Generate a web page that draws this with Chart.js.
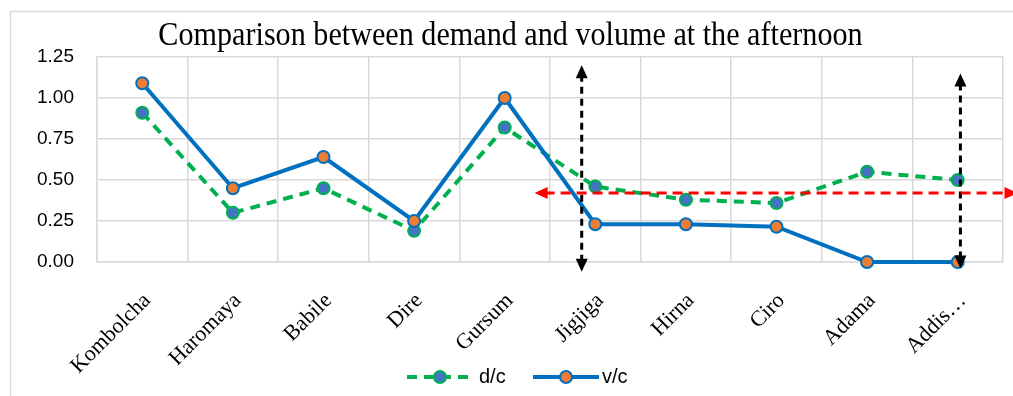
<!DOCTYPE html>
<html>
<head>
<meta charset="utf-8">
<script src="https://cdn.jsdelivr.net/npm/chart.js@4/dist/chart.umd.min.js"></script>
<style>
  html, body { margin: 0; padding: 0; background: #ffffff; }
  #wrap { width: 1013px; height: 396px; position: relative; }
</style>
</head>
<body>
<div id="wrap"><canvas id="chart" width="1013" height="396"></canvas></div>
<script>
// Sites along the corridor
const categories = ['Kombolcha', 'Haromaya', 'Babile', 'Dire', 'Gursum', 'Jigjiga', 'Hirna', 'Ciro', 'Adama', 'Addis…'];
// Demand-to-capacity and volume-to-capacity ratios
const dcValues = [0.91, 0.30, 0.45, 0.19, 0.82, 0.46, 0.38, 0.36, 0.55, 0.50];
const vcValues = [1.09, 0.45, 0.64, 0.25, 1.00, 0.23, 0.23, 0.215, 0.00, 0.00];
// Y axis ticks
const yTicks = [0, 0.25, 0.5, 0.75, 1.0, 1.25];
// Annotation arrows, in axis units (category index, ratio)
const verticalArrows = [
  { x: 4.85, from: -0.06, to: 1.20 },
  { x: 9.03, from: -0.04, to: 1.15 }
];
const horizontalArrow = { y: 0.42, from: 4.33, to: 9.66 };

const GRID = '#d9d9d9';
const BLUE = '#0070c0';
const GREEN = '#00b050';
const ORANGE = '#ed7d31';
const MARK_BLUE = '#4472c4';

function arrowHead(ctx, x, y, angle, len, half) {
  ctx.save();
  ctx.translate(x, y);
  ctx.rotate(angle);
  ctx.beginPath();
  ctx.moveTo(0, 0);
  ctx.lineTo(-len, -half);
  ctx.lineTo(-len, half);
  ctx.closePath();
  ctx.fill();
  ctx.restore();
}

const framePlugin = {
  id: 'frame',
  beforeDraw(chart) {
    const ctx = chart.ctx;
    ctx.save();
    ctx.fillStyle = '#ffffff';
    ctx.fillRect(0, 0, chart.width, chart.height);
    ctx.strokeStyle = GRID;
    ctx.lineWidth = 1.5;
    ctx.strokeRect(10.5, 11.5, chart.width + 20, chart.height + 20);
    // title, set in a tall narrow serif
    ctx.fillStyle = '#000000';
    ctx.font = '34px "Liberation Serif", "Times New Roman", serif';
    ctx.textAlign = 'center';
    ctx.textBaseline = 'alphabetic';
    ctx.translate(510.5, 44.5);
    ctx.scale(0.887, 1);
    ctx.fillText('Comparison between demand and volume at the afternoon', 0, 0);
    ctx.restore();
  },
  afterDraw(chart) {
    const ctx = chart.ctx;
    const xs = chart.scales.x, ys = chart.scales.y;
    ctx.save();
    // vertical double arrows
    ctx.strokeStyle = '#000000';
    ctx.fillStyle = '#000000';
    ctx.lineWidth = 3;
    verticalArrows.forEach(a => {
      const px = xs.getPixelForValue(a.x);
      const y1 = ys.getPixelForValue(a.from);
      const y2 = ys.getPixelForValue(a.to);
      ctx.setLineDash([7, 5]);
      ctx.beginPath();
      ctx.moveTo(px, y1 - 10);
      ctx.lineTo(px, y2 + 10);
      ctx.stroke();
      ctx.setLineDash([]);
      arrowHead(ctx, px, y2, -Math.PI / 2, 13, 6);
      arrowHead(ctx, px, y1, Math.PI / 2, 13, 6);
    });
    // horizontal double arrow
    ctx.strokeStyle = '#ff0000';
    ctx.fillStyle = '#ff0000';
    const hy = ys.getPixelForValue(horizontalArrow.y);
    const hx1 = xs.getPixelForValue(horizontalArrow.from);
    const hx2 = xs.getPixelForValue(horizontalArrow.to);
    ctx.setLineDash([10, 6]);
    ctx.beginPath();
    ctx.moveTo(hx1 + 10, hy);
    ctx.lineTo(hx2 - 10, hy);
    ctx.stroke();
    ctx.setLineDash([]);
    arrowHead(ctx, hx1, hy, Math.PI, 13, 6);
    arrowHead(ctx, hx2, hy, 0, 13, 6);

    // legend
    const ly = 377;
    ctx.lineWidth = 4;
    ctx.strokeStyle = GREEN;
    ctx.setLineDash([10, 7]);
    ctx.beginPath();
    ctx.moveTo(407, ly);
    ctx.lineTo(470, ly);
    ctx.stroke();
    ctx.setLineDash([]);
    ctx.beginPath();
    ctx.arc(440, ly, 6, 0, Math.PI * 2);
    ctx.fillStyle = MARK_BLUE;
    ctx.fill();
    ctx.lineWidth = 2;
    ctx.stroke();

    ctx.lineWidth = 4;
    ctx.strokeStyle = BLUE;
    ctx.beginPath();
    ctx.moveTo(533, ly);
    ctx.lineTo(599, ly);
    ctx.stroke();
    ctx.beginPath();
    ctx.arc(566, ly, 6, 0, Math.PI * 2);
    ctx.fillStyle = ORANGE;
    ctx.fill();
    ctx.lineWidth = 2;
    ctx.stroke();

    ctx.fillStyle = '#000000';
    ctx.font = '20px "Liberation Sans", Arial, sans-serif';
    ctx.textAlign = 'left';
    ctx.textBaseline = 'middle';
    ctx.fillText('d/c', 479, ly);
    ctx.fillText('v/c', 602, ly);
    ctx.restore();
  }
};

new Chart(document.getElementById('chart'), {
  type: 'line',
  data: {
    labels: categories,
    datasets: [
      {
        label: 'v/c',
        data: vcValues,
        borderColor: BLUE,
        borderWidth: 4,
        backgroundColor: ORANGE,
        pointBackgroundColor: ORANGE,
        pointBorderColor: BLUE,
        pointBorderWidth: 2,
        pointRadius: 6,
        tension: 0,
        clip: false,
        order: 1
      },
      {
        label: 'd/c',
        data: dcValues,
        borderColor: GREEN,
        borderWidth: 4,
        borderDash: [10, 7],
        backgroundColor: MARK_BLUE,
        pointBackgroundColor: MARK_BLUE,
        pointBorderColor: GREEN,
        pointBorderWidth: 2,
        pointRadius: 6,
        tension: 0,
        clip: false,
        order: 2
      }
    ]
  },
  options: {
    responsive: false,
    animation: false,
    events: [],
    layout: { padding: { left: 0, right: 10, top: 57, bottom: 0 } },
    plugins: {
      legend: { display: false },
      title: { display: false },
      tooltip: { enabled: false }
    },
    scales: {
      x: {
        offset: true,
        grid: { offset: true, color: GRID, lineWidth: 1.5, drawTicks: false },
        border: { color: GRID, width: 1.5 },
        ticks: {
          autoSkip: false,
          maxRotation: 45,
          minRotation: 45,
          padding: 26,
          labelOffset: 5,
          color: '#000000',
          font: { family: '"Liberation Serif", "Times New Roman", serif', size: 22 }
        },
        afterFit(scale) { scale.height = 134; }
      },
      y: {
        min: 0,
        max: 1.25,
        afterBuildTicks(scale) { scale.ticks = yTicks.map(v => ({ value: v })); },
        grid: { color: GRID, lineWidth: 1.5, drawTicks: false },
        border: { color: GRID, width: 1.5 },
        ticks: {
          padding: 23,
          color: '#000000',
          font: { family: '"Liberation Sans", Arial, sans-serif', size: 19 },
          callback: v => Number(v).toFixed(2)
        },
        afterFit(scale) { scale.width = 97; }
      }
    }
  },
  plugins: [framePlugin]
});
</script>
</body>
</html>
